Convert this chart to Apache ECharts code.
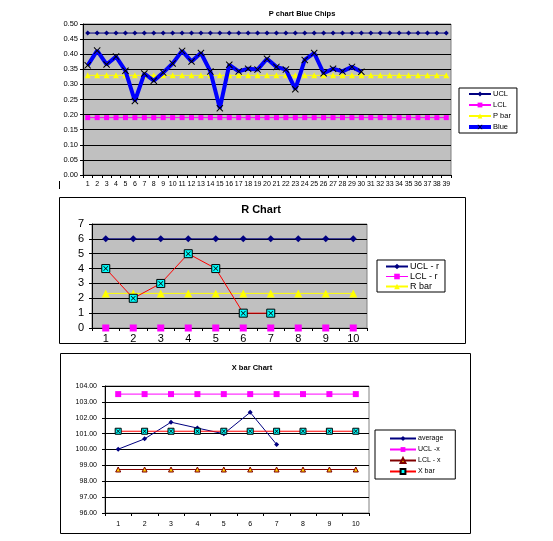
<!DOCTYPE html>
<html><head><meta charset="utf-8">
<script src="https://cdn.jsdelivr.net/npm/echarts@6/dist/echarts.min.js"></script>
<style>html,body{margin:0;padding:0;background:#fff}#c{width:553px;height:541px}</style>
</head><body><div id="c"></div>
<script>
// ---- P chart data ----
const pCats = Array.from({length:39},(_,i)=>String(i+1));
const pUCL = Array(39).fill(0.47);
const pLCL = Array(39).fill(0.19);
const pBar = Array(39).fill(0.33);
const pBlue = [0.363,0.412,0.366,0.392,0.345,0.245,0.336,0.312,0.339,0.369,0.411,0.376,0.404,0.343,0.221,0.365,0.343,0.352,0.349,0.385,0.358,0.349,0.284,0.381,0.404,0.337,0.352,0.343,0.358,0.342];
// ---- R chart data ----
const rCats = ['1','2','3','4','5','6','7','8','9','10'];
const rUCL = Array(10).fill(6);
const rLCL = Array(10).fill(0);
const rBar = Array(10).fill(2.33);
const rVals = [4,2,3,5,4,1,1];
// ---- X bar chart data ----
const xCats = ['1','2','3','4','5','6','7','8','9','10'];
const xAvg = [100.02,100.67,101.72,101.35,100.99,102.34,100.32];
const xUCL = Array(10).fill(103.49);
const xLCL = Array(10).fill(98.74);
const xBar = Array(10).fill(101.15);

const XPATH = 'path://M1,0L5,4L9,0L10,1L6,5L10,9L9,10L5,6L1,10L0,9L4,5L0,1Z';
const FF = 'Arial, "Liberation Sans", sans-serif';
const chart = echarts.init(document.getElementById('c'));

function yAx(gi, min, max, interval, fs, dec, margin){
  return {type:'value', gridIndex:gi, min:min, max:max, interval:interval, z:1,
    axisLine:{show:true, lineStyle:{color:'#000', width:1}},
    axisTick:{show:true, length:3, lineStyle:{color:'#000'}},
    axisLabel:{fontSize:fs, color:'#000', fontFamily:FF, margin:margin,
      formatter:v=> dec>=0 ? v.toFixed(dec) : String(v)},
    splitLine:{show:true, lineStyle:{color:'#000', width:1}}};
}
function xAx(gi, cats, fs, margin){
  return {type:'category', gridIndex:gi, data:cats, boundaryGap:true,
    axisLine:{show:true, lineStyle:{color:'#000', width:1}},
    axisTick:{show:true, length:3, lineStyle:{color:'#000'}},
    axisLabel:{fontSize:fs, color:'#000', fontFamily:FF, interval:0, margin:margin},
    splitLine:{show:false}};
}
function ln(name, gi, data, color, symbol, size, extra){
  return Object.assign({type:'line', name:name, xAxisIndex:gi, yAxisIndex:gi, data:data,
    symbol:symbol, symbolSize:size, showSymbol:true, animation:false,
    lineStyle:{color:color, width:1}, itemStyle:{color:color}}, extra||{});
}

const option = {
  animation:false,
  title:[
    {text:'P chart Blue Chips', left:297, top:5, textAlign:'center', textStyle:{fontSize:7.5, fontWeight:'bold', fontFamily:FF, color:'#000'}},
    {text:'R Chart', left:256, top:199, textAlign:'center', textStyle:{fontSize:11, fontWeight:'bold', fontFamily:FF, color:'#000'}},
    {text:'X bar Chart', left:247, top:359, textAlign:'center', textStyle:{fontSize:7.5, fontWeight:'bold', fontFamily:FF, color:'#000'}}
  ],
  grid:[
    {left:83, top:24, width:368, height:151, show:true, backgroundColor:'#C0C0C0', borderColor:'#808080', borderWidth:1},
    {left:92, top:224, width:275, height:104, show:true, backgroundColor:'#C0C0C0', borderColor:'#808080', borderWidth:1},
    {left:105, top:386, width:264, height:127, show:true, backgroundColor:'#FFFFFF', borderColor:'#808080', borderWidth:1}
  ],
  xAxis:[xAx(0,pCats,7,6), xAx(1,rCats,11,5), xAx(2,xCats,7,8)],
  yAxis:[yAx(0,0,0.5,0.05,7.5,2,5), yAx(1,0,7,1,11,-1,8), yAx(2,96,104,1,7,2,8)],
  legend:[
    {orient:'vertical', left:459, top:88, itemWidth:22, itemHeight:6, itemGap:3, padding:[2,6,2,8],
      borderColor:'#000', borderWidth:1, textStyle:{fontSize:7.5, fontFamily:FF, color:'#000', padding:[0,0,0,-3]},
      data:['UCL','LCL','P bar',{name:'Blue', lineStyle:{color:'#0000FF', width:4}}]},
    {orient:'vertical', left:377, top:260, itemWidth:22, itemHeight:7, itemGap:1, padding:[2,6,1,8],
      borderColor:'#000', borderWidth:1, textStyle:{fontSize:9, fontFamily:FF, color:'#000', padding:[0,0,0,-3]},
      data:['UCL - r',{name:'LCL - r', lineStyle:{color:'#FF00FF', width:1, opacity:1}},'R bar']},
    {orient:'vertical', left:375, top:430, itemWidth:26, itemHeight:6, itemGap:4, padding:[5,12,4,14],
      borderColor:'#000', borderWidth:1, textStyle:{fontSize:7, fontFamily:FF, color:'#000', padding:[0,0,0,-3]},
      data:['average','UCL -x','LCL - x','X bar']}
  ],
  graphic:[
    {type:'rect', shape:{x:59.5, y:197.5, width:406, height:146}, style:{fill:null, stroke:'#000', lineWidth:1}, z:-1},
    {type:'rect', shape:{x:60.5, y:353.5, width:410, height:180}, style:{fill:null, stroke:'#000', lineWidth:1}, z:-1},
    {type:'line', shape:{x1:59.5, y1:181, x2:59.5, y2:189}, style:{stroke:'#000', lineWidth:1}}
  ],
  series:[
    ln('UCL',0,pUCL,'#000080','diamond',5),
    ln('LCL',0,pLCL,'#FF00FF','rect',5),
    ln('P bar',0,pBar,'#FFFF00','triangle',6),
    ln('Blue',0,pBlue,'#0000FF',XPATH,7,{lineStyle:{color:'#0000FF', width:4}, itemStyle:{color:'#000'}, z:5}),

    ln('UCL - r',1,rUCL,'#000080','diamond',7),
    ln('LCL - r',1,rLCL,'#FF00FF','rect',7,{lineStyle:{color:'#FF00FF', width:1, opacity:0}}),
    ln('R bar',1,rBar,'#FFFF00','triangle',8),
    ln('R',1,rVals,'#FF0000','rect',8,{itemStyle:{color:'#00FFFF', borderColor:'#000', borderWidth:1}, z:5}),
    ln('Rx',1,rVals,'#000',XPATH,5,{lineStyle:{opacity:0}, itemStyle:{color:'#000'}, z:6, silent:true}),

    ln('average',2,xAvg,'#000080','diamond',5),
    ln('UCL -x',2,xUCL,'#FF00FF','rect',6),
    ln('LCL - x',2,xLCL,'#800000','triangle',5,{itemStyle:{color:'#FFCC00', borderColor:'#800000', borderWidth:1}}),
    ln('X bar',2,xBar,'#FF0000','rect',6,{itemStyle:{color:'#00FFFF', borderColor:'#000', borderWidth:1}}),
    ln('Xbx',2,xBar,'#000',XPATH,4,{lineStyle:{opacity:0}, itemStyle:{color:'#000'}, z:6, silent:true})
  ]
};
chart.setOption(option);
</script></body></html>
